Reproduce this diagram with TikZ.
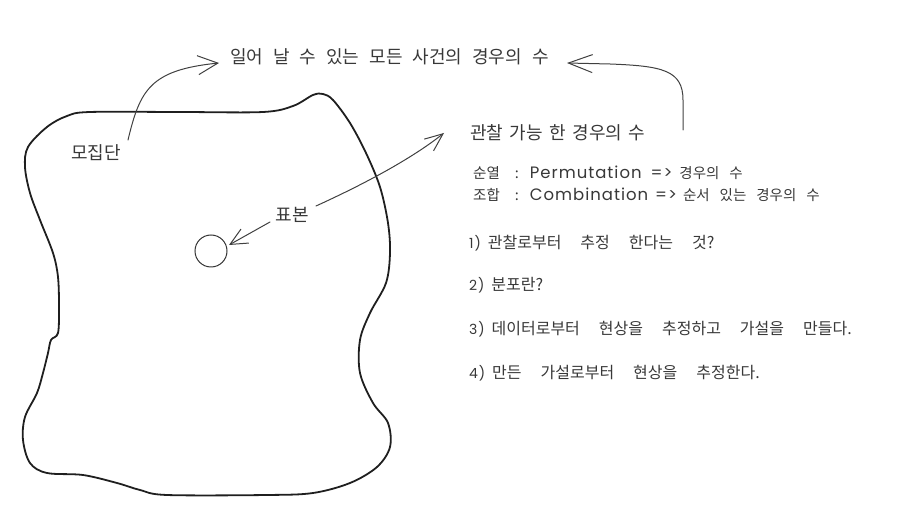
\documentclass[tikz,border=0pt]{standalone}
\usepackage{fontspec}
\setmainfont{Noto Sans CJK KR}
\newfontfamily\latfont[LetterSpace=6]{Poppins}
\usetikzlibrary{arrows.meta}
\newcommand{\lat}[2][16.5]{{\latfont\fontsize{#1}{#1}\selectfont\spaceskip=0pt\relax #2}}
\begin{document}
\begin{tikzpicture}[x=1pt,y=-1pt,
  txt/.style={font=\fontsize{#1}{#1}\selectfont, anchor=west, inner sep=0pt, text=black!78},
  sp/.style={execute at begin node={\spaceskip=#1pt\relax}},
  conn/.style={draw=black!75, line width=1pt, line cap=round},
  blob/.style={draw=black!88, line width=1.8pt, line join=round}]
\useasboundingbox (0,0) rectangle (898,526);

% population blob
\draw[blob] plot[smooth cycle, tension=0.55] coordinates {
  (90,112) (180,112) (263,112) (293,106) (313,95) (323,94) (333,100)
  (350,123) (366,153) (380,187) (388,223) (390,253) (386,283) (370,313)
  (360,340) (360,373) (373,403) (388,423) (390,447) (377,467) (350,483)
  (313,493) (267,495) (167,495) (140,490) (117,483) (83,475) (47,473)
  (30,463) (23,440) (25,417) (37,393) (43,373) (48,353) (51,340) (58,333)
  (59,307) (58,277) (53,253) (40,220) (30,193) (25,167) (28,147) (47,127) (67,116)};

% sample circle
\node[circle, draw=black!80, line width=1pt, minimum size=32pt, inner sep=0pt] (circ) at (211,251) {};

% texts
\node[txt=18, anchor=center] (pop) at (96,153) {모집단};
\node[txt=18, anchor=center] (samp) at (292,215) {표본};
\node[txt=18, sp=10] (all) at (230,57) {일어 날 수 있는 모든 사건의 경우의 수};
\node[txt=18, sp=6.5] (obs) at (470,133) {관찰 가능 한 경우의 수};
\node[txt=14.5, sp=10] (perm) at (473,172.5) {순열\hspace{15pt}:\hspace{11pt}\lat{Permutation}\hspace{9pt}\lat{=>}\hspace{7pt}경우의 수};
\node[txt=14.5, sp=10] (comb) at (473,194.5) {조합\hspace{15pt}:\hspace{11pt}\lat{Combination}\hspace{7pt}\lat{=>}\hspace{6pt}순서 있는 경우의 수};
\node[txt=16, sp=19] (q1) at (469,243.5) {\lat[14]{1)}\hspace{7pt}관찰로부터 추정 한다는 것?};
\node[txt=16, sp=19] (q2) at (469,285) {\lat[14]{2)}\hspace{7pt}분포란?};
\node[txt=16, sp=19] (q3) at (469,329) {\lat[14]{3)}\hspace{7pt}데이터로부터 현상을 추정하고 가설을 만들다.};
\node[txt=16, sp=19] (q4) at (469,373) {\lat[14]{4)}\hspace{7pt}만든 가설로부터 현상을 추정한다.};

% anchor points of connectors
\coordinate (popS) at (128,140);
\coordinate (allL) at (219,63);
\coordinate (obsS) at (683,130);
\coordinate (allR) at (567,63);
\coordinate (sampL) at (270,222);
\coordinate (sampR) at (316,206);
\coordinate (obsL) at (444,133);
\coordinate (circE) at (229,245);

% connectors
\draw[conn, -{Straight Barb[length=20pt,width=19pt,line width=1pt]}]
  (popS) .. controls (140,90) and (150,70) .. (allL);
\draw[conn, -{Straight Barb[length=24pt,width=18pt,line width=1pt]}]
  (obsS) -- (683,100) .. controls (683,70) and (662,66) .. (610,64) -- (allR);
\draw[conn, -{Straight Barb[length=18pt,width=15pt,line width=1pt]}]
  (sampR) .. controls (360,186) and (410,160) .. (obsL);
\draw[conn, -{Straight Barb[length=17pt,width=16pt,line width=1pt]}]
  (sampL) -- (circE);
\end{tikzpicture}
\end{document}
